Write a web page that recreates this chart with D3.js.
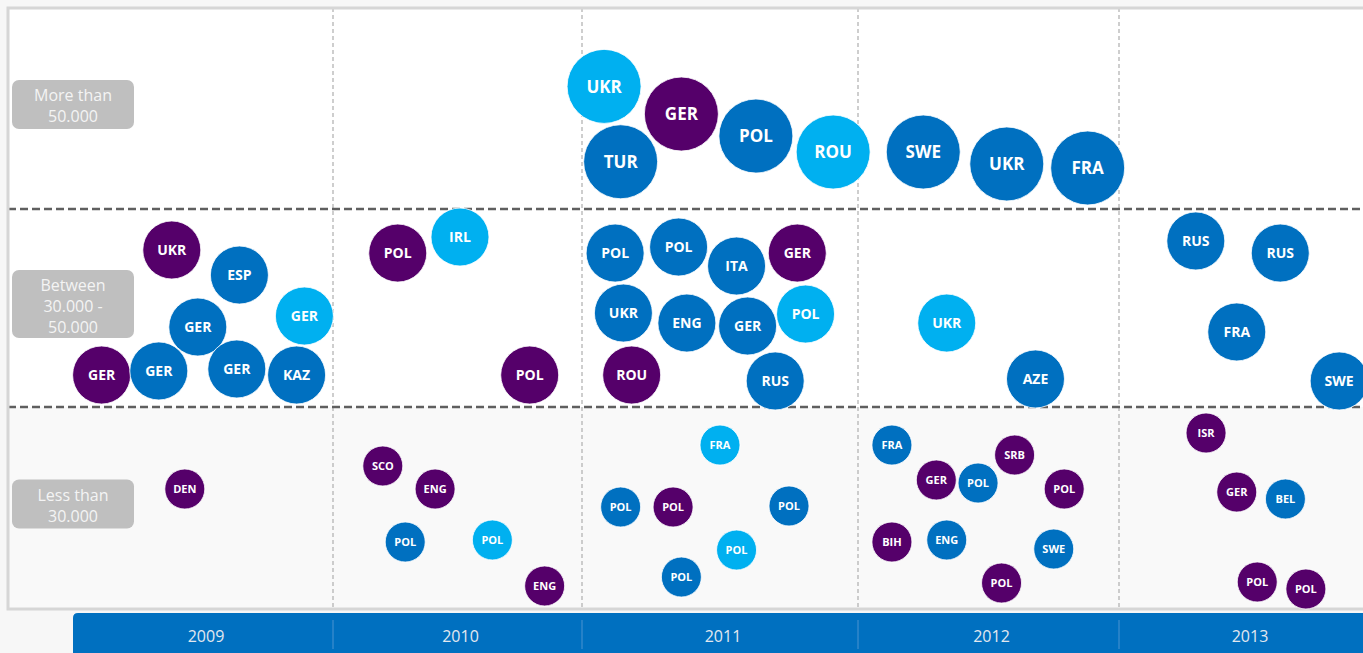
<!DOCTYPE html>
<html><head><meta charset="utf-8">
<script src="https://cdn.jsdelivr.net/npm/d3@7"></script>
<style>html,body{margin:0;padding:0;background:#fff;overflow:hidden}</style>
</head><body><svg id="c" width="1363" height="653"></svg>
<script>
// ---- data ----
const years = [2009, 2010, 2011, 2012, 2013];
const bandLabels = [["More than", "50.000"], ["Between", "30.000 -", "50.000"], ["Less than", "30.000"]];
const bandThresholds = [30000, 50000];
// bubbles: team code, position in season (decimal year), attendance band value, colour group
const codes = [
  "UKR","TUR","GER","POL","ROU","SWE","UKR","FRA",
  "UKR","ESP","GER","GER","GER","GER","GER","KAZ",
  "POL","IRL","POL",
  "POL","POL","ITA","GER","UKR","ENG","GER","POL","ROU","RUS",
  "UKR","AZE",
  "RUS","RUS","FRA","SWE",
  "DEN",
  "SCO","ENG","POL","POL","ENG",
  "FRA","POL","POL","POL","POL","POL",
  "FRA","GER","POL","SRB","POL","BIH","ENG","SWE","POL",
  "ISR","GER","BEL","POL","POL"
];
const season = [
  2010.58,2010.64,2010.86,2011.13,2011.41,2011.75,2012.07,2012.38,
  2008.88,2009.14,2008.98,2009.39,2008.61,2008.83,2009.13,2009.36,
  2009.76,2010.01,2010.29,
  2010.62,2010.85,2011.06,2011.28,2010.65,2010.88,2011.10,2011.31,2010.68,2011.20,
  2011.84,2012.18,
  2012.80,2013.13,2012.96,2013.36,
  2008.93,
  2009.70,2009.91,2009.79,2010.14,2010.35,
  2011.00,2010.64,2010.83,2011.25,2011.06,2010.86,
  2011.63,2011.80,2011.96,2012.10,2012.29,2011.63,2011.84,2012.25,2012.05,
  2012.84,2012.96,2013.15,2013.04,2013.23
];
const attendance = [
  62200,54700,59450,57260,55670,55670,54480,54080,
  45860,43330,38080,39190,33230,33640,33840,33230,
  45550,47170,33230,
  45550,46160,44240,45550,39490,38480,38180,39390,33230,32630,
  38480,32830,
  46770,45550,37580,32630,
  17820,
  21240,17820,9950,10250,3420,
  24350,15150,15150,15300,8760,4750,
  24350,19160,18710,22870,17820,9950,10250,8910,3860,
  26140,17370,16340,4010,2970
];
const group = [
  "L","B","P","B","L","B","B","B",
  "P","B","B","L","P","B","B","B",
  "P","L","P",
  "B","B","B","P","B","B","B","L","P","B",
  "L","B",
  "B","B","B","B",
  "P",
  "P","P","B","L","P",
  "L","B","P","B","L","B",
  "B","P","B","P","P","P","B","B","P",
  "P","P","B","P","P"
];
const bubbles = codes.map((c, i) => ({code: c, x: season[i], v: attendance[i], g: group[i]}));

// ---- scales ----
const svg = d3.select("#c");
const x = d3.scaleLinear()
  .domain([2008.5, 2009.5, 2010.5, 2011.5, 2012.5, 2013.5])
  .range([73, 333, 582, 858, 1119, 1375]);
const y = d3.scaleLinear()
  .domain([0, 30000, 50000, 70000])
  .range([609, 407, 209, 8]);
const color = d3.scaleOrdinal().domain(["P", "B", "L"]).range(["#55006a", "#0070c0", "#00b0f0"]);
const radius = d3.scaleThreshold().domain(bandThresholds).range([20, 29, 37]);
const fontSize = d3.scaleThreshold().domain(bandThresholds).range([11, 14, 17]);

const pLeft = 8, pRight = 1375, pTop = y(70000), pBottom = y(0);

// background
svg.append("rect").attr("x", 0).attr("y", 0).attr("width", 1363).attr("height", 653).attr("fill", "#f7f7f7");
svg.append("rect").attr("x", pLeft).attr("y", pTop).attr("width", pRight - pLeft).attr("height", y(30000) - pTop).attr("fill", "#fff");
svg.append("rect").attr("x", pLeft).attr("y", y(30000)).attr("width", pRight - pLeft).attr("height", pBottom - y(30000)).attr("fill", "#f9f9f9");

// vertical season separators
svg.append("g").selectAll("line").data(years.slice(1)).join("line")
  .attr("x1", d => x(d - 0.5)).attr("x2", d => x(d - 0.5))
  .attr("y1", pTop).attr("y2", pBottom)
  .attr("stroke", "#b4b4b4").attr("stroke-width", 1.3).attr("stroke-dasharray", "4,3");

// horizontal band separators
svg.append("g").selectAll("line").data(bandThresholds).join("line")
  .attr("x1", pLeft).attr("x2", pRight)
  .attr("y1", d => y(d)).attr("y2", d => y(d))
  .attr("stroke", "#5f5f5f").attr("stroke-width", 2.6).attr("stroke-dasharray", "8,4");

// frame
svg.append("rect").attr("x", pLeft).attr("y", pTop).attr("width", pRight - pLeft).attr("height", pBottom - pTop)
  .attr("fill", "none").attr("stroke", "#d6d6d6").attr("stroke-width", 3);

// row labels
const bandMid = [60000, 40000, 15000];
const boxH = [49, 68, 49];
const lab = svg.append("g").selectAll("g").data(bandLabels).join("g")
  .attr("transform", (d, i) => `translate(12,${y(bandMid[i]) - 4 - boxH[i] / 2})`);
lab.append("rect").attr("width", 122).attr("height", (d, i) => boxH[i]).attr("rx", 7).attr("fill", "#bfbfbf");
lab.each(function (d) {
  const t = d3.select(this).append("text").attr("text-anchor", "middle")
    .attr("font-family", "'Open Sans', sans-serif").attr("font-size", 16).attr("fill", "#f4f4f4");
  d.forEach((line, j) => t.append("tspan").attr("x", 61).attr("y", 21 + j * 21).text(line));
});

// bubbles
const b = svg.append("g").selectAll("g").data(bubbles).join("g")
  .attr("transform", d => `translate(${x(d.x)},${y(d.v)})`);
b.append("circle").attr("r", d => radius(d.v)).attr("fill", d => color(d.g))
  .attr("stroke", "#fff").attr("stroke-width", 0.8);
b.append("text").attr("text-anchor", "middle").attr("dy", "0.36em")
  .attr("font-family", "'Open Sans', sans-serif").attr("font-weight", "bold")
  .attr("font-size", d => fontSize(d.v)).attr("fill", "#fff").text(d => d.code);

// bottom axis bar
const axisG = svg.append("g");
axisG.append("path")
  .attr("d", `M${x(2008.5)},660 V${618} Q${x(2008.5)},613 ${x(2008.5) + 5},613 H${pRight} V660 Z`)
  .attr("fill", "#0070c0");
axisG.selectAll("line").data(years.slice(1)).join("line")
  .attr("x1", d => x(d - 0.5)).attr("x2", d => x(d - 0.5))
  .attr("y1", 620).attr("y2", 649).attr("stroke", "#4a93d0").attr("stroke-width", 1);
axisG.selectAll("text").data(years).join("text")
  .attr("x", d => x(d) + 3).attr("y", 642).attr("text-anchor", "middle")
  .attr("font-family", "'Open Sans', sans-serif").attr("font-size", 16).attr("fill", "#e2e8f0")
  .text(d => d);
</script></body></html>
